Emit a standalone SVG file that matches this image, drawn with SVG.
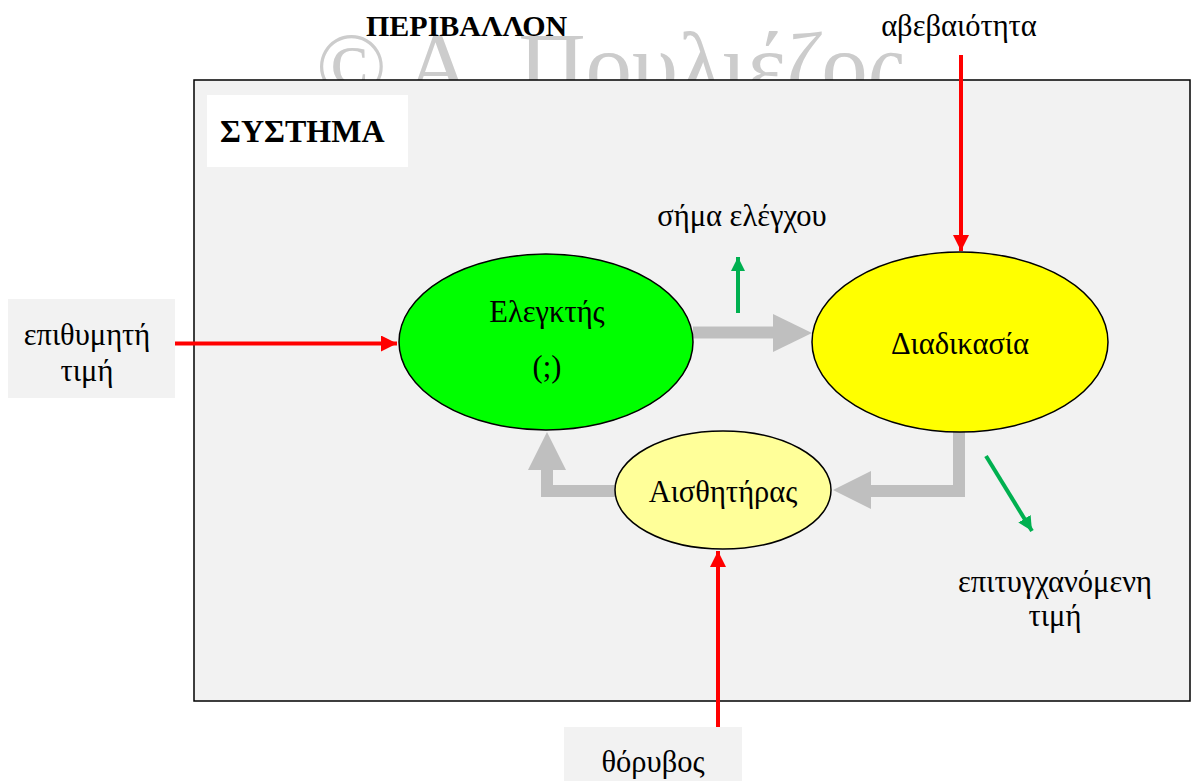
<svg xmlns="http://www.w3.org/2000/svg" width="1192" height="781" viewBox="0 0 1192 781">
  <style>
    text { font-family: "Liberation Serif", "Times New Roman", serif; fill: #000; }
    .lbl { font-size: 30.5px; }
    .bold { font-size: 30px; font-weight: bold; }
    .mid { text-anchor: middle; }
    .node { stroke: #000; stroke-width: 1.5; }
    .flow { fill: none; stroke: #bfbfbf; stroke-width: 12; }
    .head { fill: #bfbfbf; }
    .red { stroke: #ff0000; stroke-width: 4; fill: none; }
    .green { stroke: #00b050; stroke-width: 4; fill: none; }
  </style>
  <defs>
    <marker id="redHead" viewBox="0 0 10 10" refX="10" refY="5" markerWidth="4" markerHeight="4" markerUnits="strokeWidth" orient="auto">
      <path d="M0 0 L10 5 L0 10 Z" fill="#ff0000"/>
    </marker>
    <marker id="greenHead" viewBox="0 0 10 10" refX="10" refY="5" markerWidth="3.6" markerHeight="3.6" markerUnits="strokeWidth" orient="auto">
      <path d="M0 0 L10 5 L0 10 Z" fill="#00b050"/>
    </marker>
  </defs>

  <rect width="1192" height="781" fill="#ffffff"/>

  <!-- copyright mark behind the system frame -->
  <text x="316" y="97" style="font-size:93px;fill:#cccccc">© Α. Πουλιέζος</text>

  <!-- system frame -->
  <g id="system">
    <rect x="194" y="80" width="996" height="621" fill="#f2f2f2" stroke="#000" stroke-width="1.5"/>
    <rect x="207" y="95" width="201" height="72" fill="#ffffff"/>
    <text class="bold" x="220" y="142" style="font-size:32px">ΣΥΣΤΗΜΑ</text>
  </g>

  <text id="environment" class="bold" x="366" y="36">ΠΕΡΙΒΑΛΛΟΝ</text>

  <!-- external input boxes -->
  <g id="setpoint">
    <rect x="8" y="299" width="167" height="99" fill="#f2f2f2"/>
    <text class="lbl mid" x="87" y="345">επιθυμητή</text>
    <text class="lbl mid" x="87" y="381">τιμή</text>
  </g>
  <g id="noise">
    <rect x="564" y="727" width="178" height="54" fill="#f2f2f2"/>
    <text class="lbl mid" x="653" y="772">θόρυβος</text>
  </g>
  <g id="uncertainty">
    <text class="lbl mid" x="959" y="36">αβεβαιότητα</text>
  </g>
  <g id="control-signal">
    <text class="lbl mid" x="742" y="226">σήμα ελέγχου</text>
  </g>
  <g id="output">
    <text class="lbl mid" x="1055" y="592">επιτυγχανόμενη</text>
    <text class="lbl mid" x="1055" y="626">τιμή</text>
  </g>

  <!-- connectors -->
  <g id="connectors">
    <path class="flow" d="M693 332.5 H775"/>
    <polygon class="head" points="773,314 812,333 773,352"/>
    <path class="flow" d="M959 430 V491 H869"/>
    <polygon class="head" points="871,471 833,490 871,509"/>
    <path class="flow" d="M617 491 H547 V468"/>
    <polygon class="head" points="528,470 547,432 566,470"/>

    <path class="red" d="M175 343.5 H397" marker-end="url(#redHead)"/>
    <path class="red" d="M961 55 V251" marker-end="url(#redHead)"/>
    <path class="red" d="M718 727 V551" marker-end="url(#redHead)"/>

    <path class="green" d="M738 313 V257" marker-end="url(#greenHead)"/>
    <path class="green" d="M986 456 L1032 531" marker-end="url(#greenHead)"/>
  </g>

  <!-- blocks of the loop -->
  <g id="controller">
    <ellipse class="node" cx="546" cy="342" rx="147" ry="88" fill="#00ff00"/>
    <text class="lbl mid" x="547" y="322">Ελεγκτής</text>
    <text class="lbl mid" x="547" y="377">(;)</text>
  </g>
  <g id="process">
    <ellipse class="node" cx="960" cy="342" rx="148" ry="90" fill="#ffff00"/>
    <text class="lbl mid" x="960" y="354">Διαδικασία</text>
  </g>
  <g id="sensor">
    <ellipse class="node" cx="723" cy="490" rx="108" ry="59" fill="#ffff99"/>
    <text class="lbl mid" x="723" y="502">Αισθητήρας</text>
  </g>
</svg>
